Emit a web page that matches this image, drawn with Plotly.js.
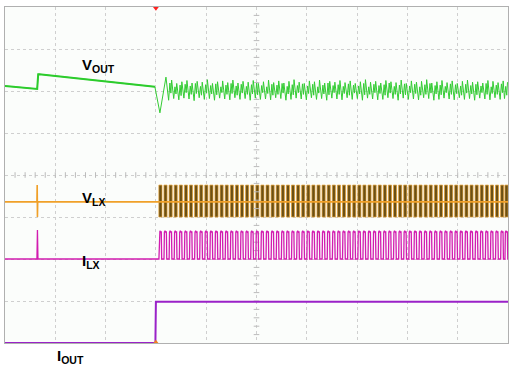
<!DOCTYPE html>
<html><head><meta charset="utf-8">
<script src="https://cdn.plot.ly/plotly-3.0.1.min.js"></script>
<style>html,body{margin:0;padding:0;background:#fff}#c{width:512px;height:367px}</style>
</head><body><div id="c"></div>
<script>
// Time axis in divisions (0..10), vertical in divisions (-4..4)
var voutT = [0, 0.64, 0.66, 0.68, 2.98, 3.08, 3.20];
var voutV = [2.12, 2.05, 2.40, 2.40, 2.10, 1.48, 2.33];
var voutHi = [2.24,2.20,2.26,2.18,2.22,2.25,2.19,2.23,2.21,2.27,2.18,2.22,2.24,2.20,2.26,2.19,2.23,2.21,2.25,2.18,2.22,2.26,2.20,2.24,2.19,2.23,2.27,2.21,2.18,2.24,2.22,2.26,2.19,2.23,2.21,2.25,2.20,2.24,2.18,2.22,2.27,2.21,2.23,2.19,2.25,2.22,2.20,2.26,2.18,2.24,2.21,2.23,2.27,2.19,2.22,2.25,2.20,2.24,2.18,2.23,2.26,2.21,2.22,2.19,2.25,2.23,2.20,2.24,2.21];
var voutLo = [1.80,1.84,1.78,1.82,1.79,1.83,1.81,1.77,1.84,1.80,1.82,1.78,1.83,1.81,1.79,1.84,1.80,1.82,1.78,1.83,1.80,1.81,1.79,1.84,1.82,1.78,1.80,1.83,1.81,1.79,1.84,1.80,1.82,1.78,1.83,1.81,1.79,1.84,1.80,1.82,1.78,1.83,1.81,1.79,1.80,1.84,1.82,1.78,1.83,1.80,1.81,1.79,1.84,1.82,1.78,1.80,1.83,1.81,1.79,1.84,1.80,1.82,1.78,1.83,1.81,1.79,1.84,1.80,1.82];
// switching pulse start times (div)
var pulseT = [3.060,3.161,3.263,3.364,3.466,3.567,3.668,3.770,3.871,3.973,4.074,4.175,4.277,4.378,4.480,4.581,4.682,4.784,4.885,4.987,5.088,5.189,5.291,5.392,5.494,5.595,5.696,5.798,5.899,6.001,6.102,6.203,6.305,6.406,6.508,6.609,6.710,6.812,6.913,7.015,7.116,7.217,7.319,7.420,7.522,7.623,7.724,7.826,7.927,8.029,8.130,8.231,8.333,8.434,8.536,8.637,8.738,8.840,8.941,9.043,9.144,9.245,9.347,9.448,9.550,9.651,9.752,9.854,9.940];
var vlxBaseT = [0, 0.635, 0.64, 0.645, 0.65, 10];
var vlxBaseV = [-0.64, -0.64, -0.24, -1.0, -0.64, -0.64];
var vlxHigh = -0.24, vlxLow = -1.0;
var ilxPreT = [0, 0.635, 0.645, 0.655, 3.06];
var ilxPreV = [-2.0, -2.0, -1.31, -2.0, -2.0];
var ilxBase = -2.0, ilxPeak = -1.36;
var ioutT = [0, 2.99, 3.0, 10];
var ioutV = [-4.0, -4.0, -3.02, -3.02];
var labels = ["V<sub>OUT</sub>", "V<sub>LX</sub>", "I<sub>LX</sub>", "I<sub>OUT</sub>"];

// build VOUT ripple
var vx = voutT.slice(), vy = voutV.slice();
for (var k = 2; k < pulseT.length; k++) {
  vx.push(pulseT[k] - 0.01); vy.push(voutLo[k]);
  vx.push(pulseT[k] + 0.015); vy.push(voutHi[(k + 7) % voutHi.length] - 0.08);
  vx.push(pulseT[k] + 0.035); vy.push(voutLo[(k + 3) % voutLo.length] + 0.12);
  vx.push(pulseT[k] + 0.05); vy.push(voutHi[k]);
}
// VLX bars
var bx = [], by = [];
pulseT.forEach(function(t){ bx.push(t + 0.03); by.push(vlxHigh - vlxLow); });
// ILX pulses
var ix = ilxPreT.slice(), iy = ilxPreV.slice();
pulseT.forEach(function(t){
  ix.push(t, t + 0.008, t + 0.02, t + 0.035, t + 0.047, t + 0.055);
  iy.push(ilxBase, ilxPeak, ilxPeak + 0.03, ilxPeak, ilxPeak+0.02, ilxBase);
});
ix.push(10); iy.push(ilxBase);

// center-line ticks (decoration)
var tkx = [], tky = [], tvx = [], tvy = [];
for (var i = 1; i < 50; i++) { tkx.push(i * 0.2); tky.push(0); }
for (var j = 1; j < 40; j++) { tvx.push(5); tvy.push(-4 + j * 0.2); }

var traces = [
  {x: tkx, y: tky, mode: 'markers', marker: {symbol: 'line-ns', size: 4, line: {color: '#bbbbbb', width: 1}}, hoverinfo: 'skip'},
  {x: tvx, y: tvy, mode: 'markers', marker: {symbol: 'line-ew', size: 4, line: {color: '#bbbbbb', width: 1}}, hoverinfo: 'skip'},
  {type: 'bar', x: bx, y: by, base: vlxLow, width: 0.062, marker: {color: '#6a5016', line: {color: '#e8a030', width: 0.7}}},
  {x: vlxBaseT, y: vlxBaseV, mode: 'lines', line: {color: '#f0a028', width: 1.6}},
  {x: ix, y: iy, mode: 'lines', line: {color: '#d21cb0', width: 1.3}},
  {x: vx, y: vy, mode: 'lines', line: {color: '#33cc33', width: 1}},
  {x: voutT.slice(0,5), y: voutV.slice(0,5), mode: 'lines', line: {color: '#2ccc2c', width: 2}},
  {x: ioutT, y: ioutV, mode: 'lines', line: {color: '#9a22c8', width: 2}},
  {x: [3.0], y: [3.97], mode: 'markers', marker: {symbol: 'triangle-down', size: 5, color: '#ff2020'}, cliponaxis: false},
  {x: [3.0], y: [-3.98], mode: 'markers', marker: {symbol: 'triangle-up', size: 5, color: '#f08020'}, cliponaxis: false},
  {x: [10.05, 10.05, 10.05], y: [-1.02, -2.02, -3.64], mode: 'markers',
   marker: {symbol: 'triangle-left', size: 6, color: ['#f0a028', '#d21cb0', '#9a22c8']}, cliponaxis: false}
];
traces.forEach(function(t){ if (!t.type) t.type = 'scatter'; t.showlegend = false; });

var annFont = {family: 'Liberation Sans, Arial, sans-serif', size: 15, color: '#000', weight: 'bold'};
var layout = {
  width: 512, height: 367,
  margin: {l: 5, r: 4, t: 7, b: 24},
  paper_bgcolor: '#ffffff', plot_bgcolor: '#fbfdfb',
  showlegend: false,
  xaxis: {range: [0, 10], dtick: 1, showticklabels: false, ticks: '', zeroline: false,
          showgrid: true, gridcolor: '#cfcfcf', griddash: 'dot', gridwidth: 1,
          showline: true, mirror: true, linecolor: '#b0b0b0', linewidth: 1, fixedrange: true},
  yaxis: {range: [-4, 4], dtick: 1, showticklabels: false, ticks: '', zeroline: false,
          showgrid: true, gridcolor: '#cfcfcf', griddash: 'dot', gridwidth: 1,
          showline: true, mirror: true, linecolor: '#b0b0b0', linewidth: 1, fixedrange: true},
  bargap: 0,
  annotations: [
    {x: 1.49, y: 2.60, text: labels[0], showarrow: false, xanchor: 'left', yanchor: 'middle', font: annFont},
    {x: 1.49, y: -0.57, text: labels[1], showarrow: false, xanchor: 'left', yanchor: 'middle', font: annFont},
    {x: 1.49, y: -2.05, text: labels[2], showarrow: false, xanchor: 'left', yanchor: 'middle', font: annFont},
    {x: 0.99, xref: 'x', y: -0.04, yref: 'paper', text: labels[3], showarrow: false, xanchor: 'left', yanchor: 'middle', font: annFont}
  ]
};
Plotly.newPlot('c', traces, layout, {staticPlot: true, displayModeBar: false});
</script></body></html>
